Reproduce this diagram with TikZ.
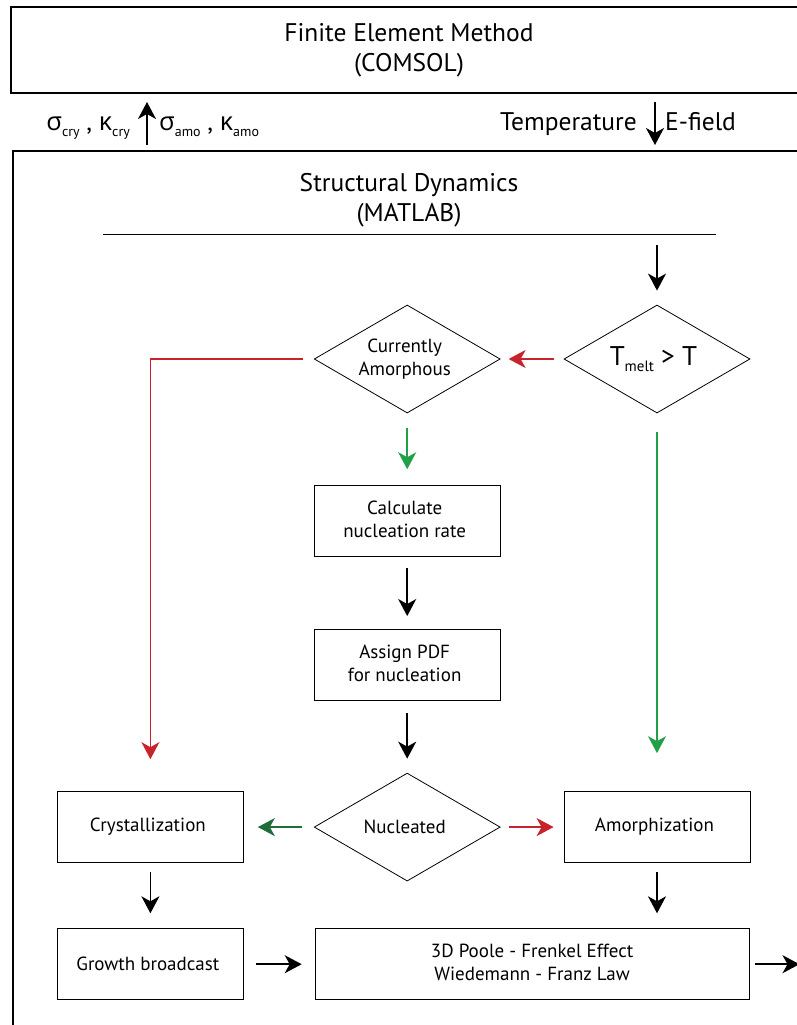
\documentclass[tikz,border=0pt]{standalone}
\usepackage{fontspec}
\setmainfont{PT Sans}
\newfontfamily\grk{Open Sans}
\usetikzlibrary{matrix,arrows.meta,shapes.geometric,calc}
\definecolor{nored}{RGB}{200,35,44}
\definecolor{yesgreen}{RGB}{34,160,72}
\definecolor{darkgreen}{RGB}{31,110,58}
\newcommand{\lowtxt}[2][14]{\raisebox{-6pt}{\fontsize{#1}{#1}\selectfont #2}}
\newcommand{\twolines}[2]{\begin{tabular}{@{}c@{}}#1\\#2\end{tabular}}
\tikzset{
	box/.style={draw, line width=0.8pt, rectangle, minimum width=186pt, minimum height=71pt, inner sep=0pt, align=center, font=\fontsize{19}{23}\selectfont},
	dia/.style={draw, line width=0.8pt, diamond, aspect=1.72, minimum width=186pt, minimum height=108pt, inner sep=0pt, align=center, font=\fontsize{19}{23}\selectfont},
	frame/.style={draw, line width=2pt, rectangle, anchor=north west, inner sep=0pt},
	title/.style={align=center, inner sep=0pt, font=\fontsize{25.5}{30}\selectfont},
	lbl/.style={inner sep=0pt, font=\fontsize{25.5}{29}\selectfont},
	flow/.style={line width=1.7pt}
}

\begin{document}
\begin{tikzpicture}[x=1pt, y=-1pt, >={Stealth[length=17pt,width=18pt,inset=5pt]}]
		\useasboundingbox (0,0) rectangle (796,1025);
		% the two solvers
		\node[frame, minimum width=796pt, minimum height=86pt, align=center, font=\fontsize{25.5}{30}\selectfont] (fem) at (10,6) {Finite Element Method\\(COMSOL)};
		\node[frame, minimum width=800pt, minimum height=900pt] (sd) at (12,150) {};
		\node[title] (sdtxt) at (409,200) {Structural Dynamics\\(MATLAB)};
		\coordinate (rl) at (103,234);
		\coordinate (rr) at (716,234);
		\draw[line width=0.8pt] (rl) -- (rr);
		% exchanged quantities
		\coordinate (up) at (147,122);
		\coordinate (dn) at (655,122);
		\node[lbl, anchor=base east] (crylbl) at (130,130) {{\grk σ}\lowtxt{cry} , {\grk κ}\lowtxt{cry}};
		\node[lbl, anchor=base west] (amolbl) at (159,130) {{\grk σ}\lowtxt{amo} , {\grk κ}\lowtxt{amo}};
		\node[lbl, anchor=base east] (templbl) at (637,130) {Temperature};
		\node[lbl, anchor=base west] (efldlbl) at (665,130) {E-field};
		\path[->, flow]
		(up |- sd.north) edge[shorten <=5pt, shorten >=8pt] (up |- fem.south)
		(dn |- fem.south) edge[shorten <=8pt, shorten >=5pt] (dn |- sd.north);
		% flow chart
		\matrix (b) [matrix of nodes, row sep=72pt, column sep=63pt, nodes={anchor=center}, matrix anchor=b-1-3.center] at (657,359)
		{
			&[7pt] |[dia]| \twolines{Currently}{Amorphous} & |[dia, font=\fontsize{27}{30}\selectfont]| T\lowtxt[15]{melt} > T \\
			&[7pt] |[box]| \twolines{Calculate}{nucleation rate} & \\
			&[7pt] |[box]| \twolines{Assign PDF}{for nucleation} & \\
			|[box]| Crystallization &[7pt] |[dia]| Nucleated & |[box]| Amorphization \\[-25pt]
			|[box]| Growth broadcast &[7pt] & \\
		};
		\node[box, minimum width=434pt] (poole) at ($(b-4-2.west |- b-5-1)!0.5!(b-4-3.east |- b-5-1)$) {\twolines{3D Poole - Frenkel Effect}{Wiedemann - Franz Law}};
		\coordinate (exit) at ([xshift=50pt]poole.east);
		\path[->, flow]
		(rl -| b-1-3) edge[shorten <=11pt, shorten >=14pt] (b-1-3)
		(b-1-3) edge[nored, shorten <=10pt, shorten >=8pt] (b-1-2)
		(b-1-2) edge[yesgreen, shorten <=15pt, shorten >=16pt] (b-2-2)
		(b-1-3) edge[yesgreen, shorten <=19pt, shorten >=38pt] (b-4-3)
		(b-2-2) edge[shorten <=11pt, shorten >=13pt] (b-3-2)
		(b-3-2) edge[shorten <=12pt, shorten >=14pt] (b-4-2)
		(b-4-2) edge[darkgreen, shorten <=12pt, shorten >=14pt] (b-4-1)
		(b-4-2) edge[nored, shorten <=8pt, shorten >=10pt] (b-4-3)
		(b-4-1) edge[shorten <=9pt, shorten >=15pt] (b-5-1)
		(b-4-3) edge[shorten <=9pt, shorten >=15pt] (b-4-3 |- poole.north)
		(b-5-1) edge[shorten <=12pt, shorten >=13pt] (poole)
		(poole) edge[shorten <=5pt] (exit);
		\draw[->, flow, nored, shorten <=11pt, shorten >=32pt] (b-1-2.west) -| (b-4-1.north);
	\end{tikzpicture}
\end{document}
